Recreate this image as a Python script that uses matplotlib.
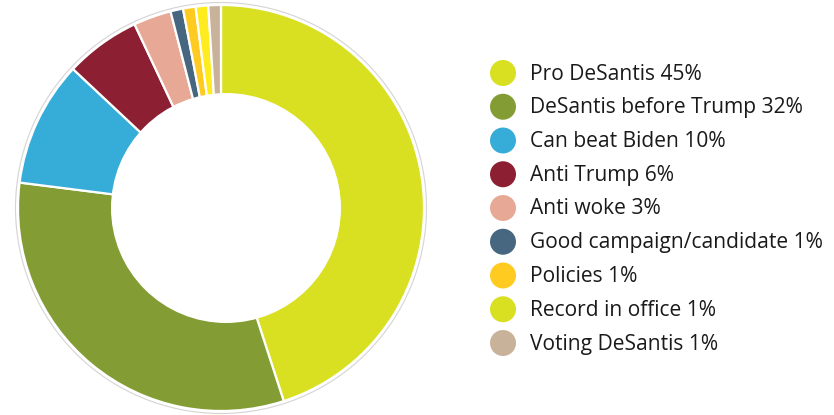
import matplotlib.pyplot as plt
from matplotlib.patches import Circle

labels = ["Pro DeSantis", "DeSantis before Trump", "Can beat Biden", "Anti Trump",
          "Anti woke", "Good campaign/candidate", "Policies", "Record in office",
          "Voting DeSantis"]
shares = [45, 32, 10, 6, 3, 1, 1, 1, 1]
colors = ["#d9e022", "#839d34", "#36acd9", "#8c1f31", "#e7a995",
          "#46677f", "#ffcb20", "#ffec1f", "#c8b29a"]
key_colors = ["#d9e022", "#839d34", "#36acd9", "#8c1f31", "#e7a995",
              "#46677f", "#ffcb20", "#d9e022", "#c8b29a"]

plt.rcParams['font.family'] = ['Open Sans', 'DejaVu Sans']

fig = plt.figure(figsize=(8.34, 4.15), dpi=100)
ax = fig.add_axes([0, 0, 1, 1])
ax.set_xlim(0, 834)
ax.set_ylim(0, 415)
ax.axis('off')

cx, cy, r_out = 221, 207, 203

# faint ring behind the donut
ax.add_patch(Circle((cx, cy), r_out + 2.5, facecolor='none', edgecolor='#d4d4d4', lw=0.8))

ax.pie(shares, colors=colors, center=(cx, cy), radius=r_out,
       startangle=90, counterclock=False,
       wedgeprops=dict(edgecolor='white', linewidth=1.6))
ax.add_patch(Circle((cx + 5, cy), 115, facecolor='white', edgecolor='none', zorder=5))

ax.set_xlim(0, 834)
ax.set_ylim(0, 415)
ax.set_aspect('auto')

# key on the right
y0, step = 415 - 73, 33.75
for i, (lab, val, col) in enumerate(zip(labels, shares, key_colors)):
    y = y0 - i * step
    ax.scatter(503, y, s=350, color=col, edgecolor='none', zorder=6)
    ax.text(530, y - 1, f"{lab} {val}%", fontsize=15.1, color='#1a1a1a',
            va='center', ha='left', zorder=6)

fig.savefig("out.png", dpi=100)
